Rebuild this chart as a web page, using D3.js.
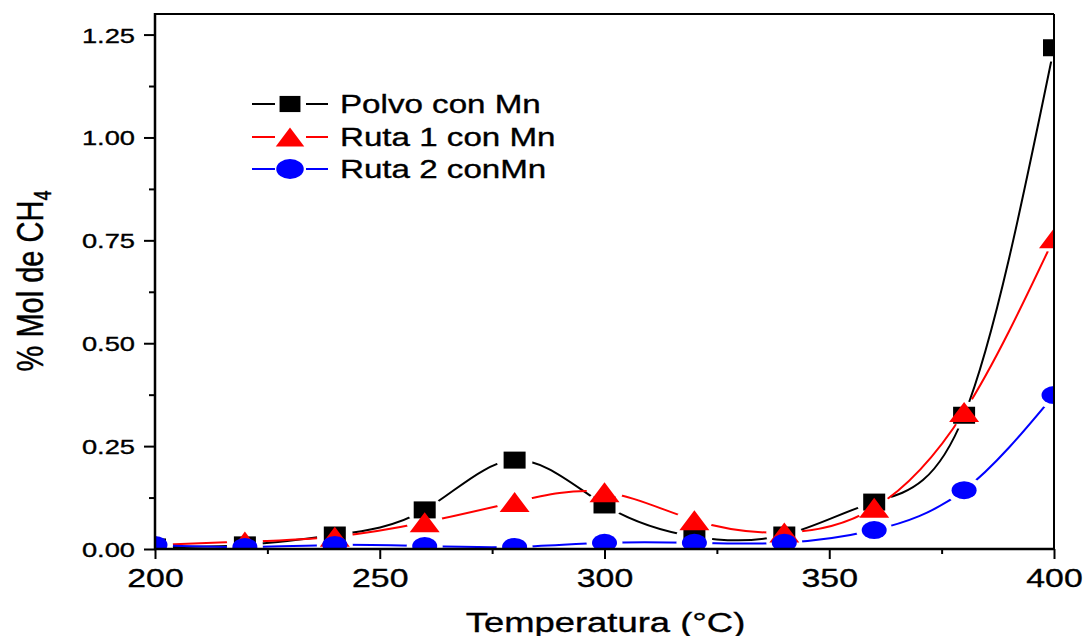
<!DOCTYPE html>
<html>
<head>
<meta charset="utf-8">
<script src="https://cdn.jsdelivr.net/npm/d3@7"></script>
<style>
  body { margin: 0; background: #fff; }
  svg { display: block; }
  text { font-family: "Liberation Sans", Arial, sans-serif; fill: #000; stroke: #000; stroke-width: 0.35; }
</style>
</head>
<body>
<svg id="chart" width="1086" height="636"></svg>
<script>
// DATA
const temps = [200, 220, 240, 260, 280, 300, 320, 340, 360, 380, 400];
const polvo = [0.005, 0.01, 0.034, 0.095, 0.216, 0.107, 0.03, 0.034, 0.114, 0.325, 1.218];
const ruta1 = [0.01, 0.018, 0.03, 0.065, 0.114, 0.138, 0.07, 0.04, 0.1, 0.333, 0.755];
const ruta2 = [0.01, 0.005, 0.01, 0.007, 0.005, 0.015, 0.015, 0.015, 0.046, 0.143, 0.374];
const seriesNames = ["Polvo con Mn", "Ruta 1 con Mn", "Ruta 2 conMn"];
const xTicks = [200, 250, 300, 350, 400];
const xMinor = [225, 275, 325, 375];
const yTicks = [0, 0.25, 0.5, 0.75, 1.0, 1.25];
const yMinor = [0.125, 0.375, 0.625, 0.875, 1.125];

// VARIABLES
const sx = 1.3; // the picture is stretched sideways
const pLeft = 155, pRight = 1054, pTop = 14, pBottom = 549;

const x = d3.scaleLinear().domain([200, 400]).range([pLeft, pRight]);
const y = d3.scaleLinear().domain([0, 1.3]).range([pBottom, pTop]);

const series = [
  { name: seriesNames[0], values: polvo, color: "#000000", shape: "square" },
  { name: seriesNames[1], values: ruta1, color: "#ff0000", shape: "triangle" },
  { name: seriesNames[2], values: ruta2, color: "#0000ff", shape: "circle" }
];

const svg = d3.select("#chart");
svg.append("rect").attr("width", 1086).attr("height", 636).attr("fill", "#fff");

const defs = svg.append("defs");
defs.append("clipPath").attr("id", "plotClip")
  .append("rect")
  .attr("x", pLeft).attr("y", pTop)
  .attr("width", pRight - pLeft).attr("height", pBottom - pTop);

function marker(g, shape, color, cx, cy, k = 1) {
  if (shape === "square") {
    g.append("rect")
      .attr("x", cx - 11 * k).attr("y", cy - 8.5 * k)
      .attr("width", 22 * k).attr("height", 17 * k)
      .attr("fill", color);
  } else if (shape === "triangle") {
    g.append("path")
      .attr("d", `M${cx},${cy - 10 * k}L${cx + 15 * k},${cy + 10 * k}L${cx - 15 * k},${cy + 10 * k}Z`)
      .attr("fill", color);
  } else {
    g.append("ellipse")
      .attr("cx", cx).attr("cy", cy)
      .attr("rx", 12.5 * k).attr("ry", 9 * k)
      .attr("fill", color);
  }
}

// LINES + MARKERS
const line = d3.line()
  .x((d, i) => x(temps[i]))
  .y(d => y(d))
  .curve(d3.curveNatural);

const plot = svg.append("g").attr("clip-path", "url(#plotClip)");

series.forEach((s, si) => {
  // gaps around own markers
  const mask = defs.append("mask").attr("id", "gap" + si)
    .attr("maskUnits", "userSpaceOnUse")
    .attr("x", 0).attr("y", 0).attr("width", 1086).attr("height", 636);
  mask.append("rect").attr("width", 1086).attr("height", 636).attr("fill", "#fff");
  mask.selectAll("ellipse")
    .data(s.values)
    .enter()
    .append("ellipse")
    .attr("cx", (d, i) => x(temps[i]))
    .attr("cy", d => y(d))
    .attr("rx", 18).attr("ry", 14)
    .attr("fill", "#000");

  plot.append("path")
    .attr("d", line(s.values))
    .attr("fill", "none")
    .attr("stroke", s.color)
    .attr("stroke-width", 2)
    .attr("mask", `url(#gap${si})`);
});

series.forEach(s => {
  const g = plot.append("g");
  s.values.forEach((v, i) => marker(g, s.shape, s.color, x(temps[i]), y(v)));
});

// AXES
const xAxis = svg.append("g")
  .attr("transform", `translate(0,${pBottom})`)
  .call(d3.axisBottom(x).tickValues(xTicks).tickSize(10).tickFormat(d3.format("d")));
svg.append("g")
  .attr("transform", `translate(0,${pBottom})`)
  .call(d3.axisBottom(x).tickValues(xMinor).tickSize(5).tickFormat(""));

const yAxis = svg.append("g")
  .attr("transform", `translate(${pLeft},0)`)
  .call(d3.axisLeft(y).tickValues(yTicks).tickSize(11).tickFormat(d3.format(".2f")));
svg.append("g")
  .attr("transform", `translate(${pLeft},0)`)
  .call(d3.axisLeft(y).tickValues(yMinor).tickSize(6).tickFormat(""));

svg.selectAll(".domain").remove();
svg.selectAll(".tick line").attr("stroke", "#000").attr("stroke-width", 2);

xAxis.selectAll(".tick text")
  .attr("font-size", 26)
  .attr("y", 0).attr("dy", 0)
  .attr("transform", `translate(0,38) scale(${sx},1)`);

yAxis.selectAll(".tick text")
  .attr("font-size", 21)
  .attr("x", 0).attr("dy", 0)
  .attr("transform", `translate(-20,7.5) scale(${sx},1)`);

// FRAME
svg.append("line").attr("x1", pLeft).attr("x2", pRight).attr("y1", pTop).attr("y2", pTop)
  .attr("stroke", "#000").attr("stroke-width", 2);
svg.append("line").attr("x1", pRight).attr("x2", pRight).attr("y1", pTop).attr("y2", pBottom)
  .attr("stroke", "#000").attr("stroke-width", 2);
svg.append("line").attr("x1", pLeft).attr("x2", pLeft).attr("y1", pTop - 1).attr("y2", pBottom + 1)
  .attr("stroke", "#000").attr("stroke-width", 2.5);
svg.append("line").attr("x1", pLeft - 1).attr("x2", pRight + 1).attr("y1", pBottom).attr("y2", pBottom)
  .attr("stroke", "#000").attr("stroke-width", 2.5);

// AXIS TITLES
svg.append("text")
  .attr("transform", `translate(${(pLeft + pRight) / 2 + 1},632) scale(${sx},1)`)
  .attr("text-anchor", "middle")
  .attr("font-size", 28)
  .text("Temperatura (°C)");

const yTitle = svg.append("text")
  .attr("transform", `translate(43,281) rotate(-90) scale(1,${sx})`)
  .attr("text-anchor", "middle")
  .attr("font-size", 29);
yTitle.append("tspan").text("% Mol de CH");
yTitle.append("tspan").attr("font-size", 18).attr("dy", 6).text("4");

// LEGEND
const legend = svg.append("g");
const rowsY = [104, 137, 169];
series.forEach((s, i) => {
  const g = legend.append("g");
  const cy = rowsY[i];
  g.append("line").attr("x1", 252).attr("x2", 275).attr("y1", cy).attr("y2", cy)
    .attr("stroke", s.color).attr("stroke-width", 2);
  g.append("line").attr("x1", 306).attr("x2", 328).attr("y1", cy).attr("y2", cy)
    .attr("stroke", s.color).attr("stroke-width", 2);
  marker(g, s.shape, s.color, 290, cy, s.shape === "circle" ? 1.1 : 0.95);
  g.append("text")
    .attr("transform", `translate(340,${cy + 9}) scale(${sx},1)`)
    .attr("font-size", 25.5)
    .text(s.name);
});
</script>
</body>
</html>
